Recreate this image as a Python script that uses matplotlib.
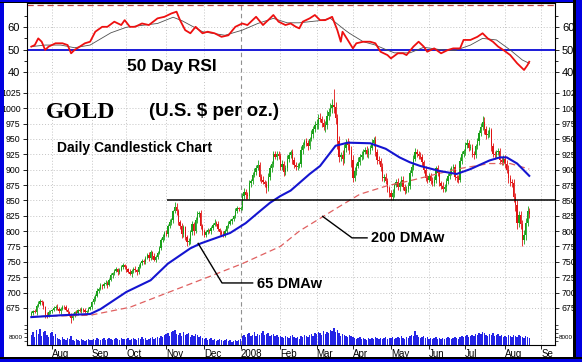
import numpy as np
import pandas as pd
import matplotlib
matplotlib.use('Agg')
import matplotlib.pyplot as plt
from matplotlib.patches import Rectangle

plt.rcParams['font.family'] = ['Liberation Sans', 'DejaVu Sans']

# ---- daily closes, one list per month (Jul 16 2007 .. Aug 21 2008, business days)
c_jul07 = [667, 670, 668, 678, 682, 686, 684, 676, 664, 662, 668, 670]
c_aug07 = [672, 675, 677, 673, 670, 674, 677, 676, 672, 668, 664, 658, 662, 668, 667, 671,
           670, 673, 672, 668, 670, 674, 676]
c_sep07 = [684, 690, 695, 702, 706, 712, 710, 714, 716, 713, 720, 728, 731, 735, 738, 733,
           737, 741, 745, 742]
c_oct07 = [738, 734, 730, 735, 739, 736, 733, 742, 748, 751, 750, 757, 761, 756, 766, 760,
           753, 758, 765, 772, 785, 790, 797]
c_nov07 = [795, 808, 815, 818, 832, 840, 832, 815, 808, 795, 806, 790, 782, 784, 798, 812,
           800, 818, 828, 830, 808, 800]
c_dec07 = [794, 798, 802, 800, 805, 810, 814, 812, 803, 799, 796, 793, 800, 808, 812, 816,
           820, 824, 833, 838, 836]
c_jan08 = [838, 857, 864, 859, 857, 878, 881, 892, 896, 903, 908, 888, 884, 880, 877, 870,
           888, 902, 910, 925, 921, 926, 922]
c_feb08 = [905, 910, 896, 902, 918, 924, 928, 915, 908, 904, 906, 909, 932, 940, 946, 944,
           938, 950, 958, 966, 973]
c_mar08 = [975, 984, 982, 976, 970, 972, 988, 994, 1000, 1005, 1002, 984, 946, 920, 924, 918,
           935, 944, 940, 932, 916]
c_apr08 = [886, 898, 906, 913, 920, 924, 929, 932, 925, 930, 936, 944, 948, 928, 916, 914,
           904, 886, 888, 882, 870, 862]
c_may08 = [856, 862, 875, 880, 872, 878, 884, 872, 866, 868, 874, 894, 905, 918, 928, 926,
           922, 921, 912, 900, 886, 884]
c_jun08 = [890, 882, 878, 884, 902, 894, 878, 874, 868, 872, 882, 889, 897, 902, 904, 888,
           886, 884, 914, 926, 930]
c_jul08 = [940, 944, 936, 936, 926, 924, 938, 946, 960, 970, 978, 966, 956, 958, 964, 938,
           926, 924, 928, 930, 916, 912, 918]
c_aug08 = [910, 900, 886, 880, 878, 856, 842, 814, 826, 812, 786, 794, 814, 832, 828]
first_open = 664

# upper / lower wick sizes ($ beyond the body)
wick_up = [3, 2, 4, 3, 5, 4, 2, 3, 2, 4, 3, 2,
           2, 3, 2, 4, 3, 2, 3, 2, 4, 3, 2, 3, 5, 2, 3, 2, 4, 3, 2, 3, 2, 3, 2,
           3, 4, 2, 5, 3, 4, 2, 3, 5, 2, 4, 3, 2, 4, 3, 2, 3, 4, 3, 2,
           3, 2, 4, 3, 2, 5, 3, 4, 2, 3, 4, 2, 3, 5, 3, 2, 4, 3, 2, 4, 3, 5, 3,
           4, 3, 5, 4, 3, 8, 5, 4, 3, 5, 4, 3, 4, 5, 3, 4, 3, 5, 4, 3, 4, 3,
           3, 4, 3, 2, 4, 3, 5, 3, 4, 2, 3, 4, 3, 2, 4, 3, 2, 3, 4, 3, 2,
           3, 5, 6, 4, 5, 6, 4, 5, 6, 5, 7, 4, 5, 6, 4, 5, 6, 5, 4, 6, 5, 4, 5,
           5, 6, 4, 5, 6, 5, 4, 6, 5, 4, 5, 3, 6, 5, 4, 6, 5, 4, 6, 5, 7,
           7, 6, 8, 5, 6, 7, 9, 6, 8, 10, 26, 8, 7, 9, 5, 8, 7, 6, 8, 7, 6,
           8, 6, 5, 7, 5, 6, 4, 5, 6, 5, 4, 6, 5, 7, 5, 6, 5, 7, 5, 6, 5, 4,
           5, 6, 4, 5, 6, 4, 5, 6, 4, 5, 6, 5, 4, 6, 7, 5, 4, 6, 5, 4, 6, 5,
           5, 4, 6, 5, 4, 6, 5, 4, 6, 5, 4, 5, 6, 4, 5, 6, 4, 5, 6, 5, 4,
           5, 6, 4, 5, 6, 5, 4, 6, 5, 6, 10, 7, 5, 6, 5, 4, 6, 5, 4, 6, 5, 4, 6,
           6, 5, 7, 6, 5, 7, 6, 8, 6, 7, 6, 8, 7, 9, 6]
wick_dn = [2, 3, 2, 4, 2, 3, 4, 2, 5, 3, 2, 3,
           3, 2, 4, 2, 3, 5, 2, 3, 2, 4, 3, 8, 3, 2, 4, 3, 2, 3, 4, 2, 3, 2, 3,
           2, 3, 4, 2, 3, 2, 4, 3, 2, 5, 3, 2, 4, 3, 2, 4, 3, 2, 3, 4,
           4, 3, 2, 5, 3, 2, 4, 3, 2, 3, 4, 3, 2, 4, 3, 5, 2, 3, 4, 2, 3, 2, 4,
           3, 4, 3, 5, 4, 3, 6, 5, 4, 6, 4, 5, 6, 4, 5, 4, 6, 3, 4, 5, 4, 6,
           4, 3, 2, 3, 4, 3, 2, 4, 3, 5, 3, 2, 3, 4, 3, 2, 4, 3, 2, 3, 4,
           2, 4, 5, 6, 5, 4, 6, 5, 4, 5, 4, 6, 5, 4, 6, 8, 5, 4, 6, 5, 4, 6, 5,
           6, 5, 7, 5, 4, 6, 5, 6, 5, 4, 5, 3, 5, 6, 4, 5, 6, 5, 4, 6, 5,
           6, 8, 5, 7, 6, 8, 5, 7, 6, 8, 9, 10, 12, 8, 6, 10, 7, 6, 8, 7, 12,
           6, 5, 7, 4, 6, 5, 6, 4, 5, 6, 5, 4, 6, 5, 7, 5, 6, 4, 6, 5, 6, 7,
           6, 5, 6, 4, 5, 6, 4, 5, 6, 4, 5, 6, 4, 5, 4, 6, 5, 4, 6, 5, 4, 6,
           4, 6, 5, 4, 6, 5, 4, 6, 5, 4, 6, 5, 4, 6, 5, 4, 6, 5, 4, 5, 6,
           6, 5, 6, 4, 5, 6, 5, 4, 6, 5, 6, 8, 6, 5, 4, 8, 5, 6, 5, 4, 6, 5, 4,
           7, 6, 8, 7, 6, 8, 9, 10, 7, 8, 11, 7, 8, 6, 7]

# daily volume (thousands of contracts)
volume = [10, 13, 8, 15, 11, 16, 9, 13, 14, 10, 8, 12,
          13, 9, 11, 7, 6, 5, 8, 6, 5, 7, 6, 9, 5, 4, 6, 5, 4, 6, 5, 4, 5, 6, 5,
          5, 6, 5, 7, 6, 5, 6, 7, 5, 6, 7, 6, 5, 6, 7, 6, 5, 7, 6, 6,
          6, 7, 5, 6, 7, 6, 5, 7, 6, 8, 6, 7, 5, 6, 7, 8, 6, 7, 8, 7, 9, 8, 10,
          11, 12, 9, 13, 14, 15, 11, 10, 12, 9, 13, 10, 11, 12, 8, 10, 9, 11, 10, 8, 9, 7,
          6, 7, 5, 6, 7, 5, 6, 4, 5, 6, 5, 4, 5, 6, 4, 5, 3, 4, 5, 4, 5,
          6, 9, 10, 8, 11, 12, 9, 10, 13, 9, 11, 10, 12, 14, 10, 11, 12, 9, 10, 11, 9, 10, 8,
          9, 8, 7, 9, 8, 7, 9, 10, 8, 7, 8, 6, 9, 8, 10, 9, 8, 10, 11, 9, 12,
          11, 13, 12, 10, 14, 11, 13, 12, 15, 14, 17, 13, 15, 12, 9, 11, 10, 9, 8, 10, 9,
          8, 7, 6, 7, 8, 6, 7, 6, 5, 7, 6, 7, 6, 8, 7, 6, 7, 6, 7, 8, 6, 7,
          7, 8, 6, 7, 8, 7, 9, 7, 6, 8, 7, 9, 10, 9, 14, 10, 8, 7, 8, 9, 7, 8,
          6, 7, 6, 7, 8, 6, 7, 6, 7, 6, 7, 8, 7, 6, 7, 8, 7, 6, 8, 9, 8,
          9, 10, 8, 9, 10, 9, 11, 10, 12, 11, 13, 12, 10, 9, 11, 10, 12, 9, 10, 11, 9, 10, 8,
          9, 8, 10, 9, 8, 10, 9, 8, 10, 9, 8, 7, 9, 8, 7]

# moving averages (trading-day index, price)
ma65_day = [0, 17, 34, 40, 55, 69, 79, 92, 98, 115, 124, 132, 138, 144, 150, 161, 167, 176,
            183, 196, 205, 213, 219, 225, 236, 246, 254, 265, 271, 275, 281, 288]
ma65_val = [660, 663, 665, 673, 701, 720, 747, 772, 780, 797, 813, 832, 846, 857, 866, 893, 906,
            939, 944, 943, 934, 920, 912, 906, 898, 893, 901, 915, 920, 920, 910, 890]
ma200_day = [0, 34, 57, 80, 103, 122, 144, 155, 177, 190, 206, 219, 246, 265, 277, 288]
ma200_val = [661, 663, 676, 701, 726, 747, 775, 800, 838, 860, 874, 882, 901, 910, 910, 901]

# 50 day RSI and its signal line
rsi_day = [0, 2, 4, 6, 8, 10, 14, 18, 21, 23, 25, 28, 31, 34, 37, 41, 44, 48, 52, 54, 57, 60,
           64, 68, 73, 77, 81, 84, 86, 89, 92, 95, 99, 102, 106, 110, 114, 118, 122, 125, 130,
           134, 137, 140, 143, 147, 150, 153, 155, 157, 161, 164, 167, 170, 174, 177, 179, 180,
           183, 186, 188, 192, 196, 199, 202, 206, 208, 212, 215, 217, 221, 224, 227, 229, 233,
           237, 241, 244, 248, 250, 254, 258, 261, 264, 267, 270, 273, 277, 281, 285, 287, 288]
rsi_val = [51.3, 52, 55, 53.5, 49.8, 51.3, 52.8, 52.8, 52, 48.3, 49.8, 51.3, 52.8, 53.5, 58,
           60.2, 60.2, 62.5, 61, 63.2, 60.2, 60.2, 61.7, 61, 64, 64.7, 66.2, 67, 63.2, 58.7, 57.3,
           60.2, 57.3, 58, 57.3, 55.7, 56.4, 60.2, 61.7, 61, 64.7, 61, 63.2, 65.5, 62.5, 61, 61.7,
           60.2, 59.5, 62.5, 64, 65.5, 63.2, 63.2, 64.7, 58.7, 53.5, 58, 54.3, 50.5, 52.8, 53.5,
           53.5, 52.8, 49, 47.5, 46, 48.3, 48.3, 47.5, 51.3, 53.5, 51.3, 49, 50.5, 48.3, 49.8,
           50.5, 50.5, 54.3, 54.3, 55.7, 57.3, 55, 53.5, 51.3, 49.8, 47.5, 43.8, 40.8, 43, 44.5]
sig_day = [0, 8, 17, 25, 34, 46, 55, 73, 82, 87, 99, 112, 122, 131, 140, 148, 155, 167, 173,
           181, 184, 192, 199, 205, 210, 219, 227, 236, 245, 254, 261, 269, 277, 284, 288]
sig_val = [51.3, 52, 52, 50.8, 52, 57.5, 60, 61.7, 64.5, 63, 58, 56.4, 58.7, 61.7, 64, 62, 62,
           63, 64, 59, 57.3, 53.5, 52, 50, 48.5, 48.5, 51, 50, 49.5, 52, 55, 54.3, 49.8, 45.3, 43.8]

month_labels = ['Aug', 'Sep', 'Oct', 'Nov', 'Dec', '2008', 'Feb', 'Mar', 'Apr', 'May', 'Jun',
                'Jul', 'Aug', 'Se']
price_ticks = [675, 700, 725, 750, 775, 800, 825, 850, 875, 900, 925, 950, 975, 1000, 1025]

# ---- build series
closes = np.array(c_jul07 + c_aug07 + c_sep07 + c_oct07 + c_nov07 + c_dec07 + c_jan08 + c_feb08
                  + c_mar08 + c_apr08 + c_may08 + c_jun08 + c_jul08 + c_aug08, dtype=float)
opens = np.concatenate([[first_open], closes[:-1]])
n = len(closes)
days = np.arange(n)
top = np.maximum(opens, closes)
bot = np.minimum(opens, closes)
highs = top + np.array(wick_up[:n])
lows = bot - np.array(wick_dn[:n])
up = closes >= opens
colors = np.where(up, '#18a018', '#e01414')

dates = pd.bdate_range('2007-07-16', '2008-09-30')
s = pd.Series(np.arange(len(dates)), index=dates)
month_idx = s.groupby([dates.year, dates.month]).first().values[1:15]

W, H = 582, 362
fig = plt.figure(figsize=(W / 100, H / 100), dpi=100)
fig.patch.set_facecolor('white')


def axes_px(x0, y0, x1, y1):
    return fig.add_axes([x0 / W, 1 - y1 / H, (x1 - x0) / W, (y1 - y0) / H])


ax_r = axes_px(27, 3, 555, 80)
ax_p = axes_px(27, 80, 555, 345)
ax_v = axes_px(27, 316, 555, 345)

xmin, xmax = -2.5, 302.9
grid_kw = dict(color='#c4c4c4', lw=0.7, ls=(0, (1, 2)), zorder=0)

for ax in (ax_r, ax_p):
    ax.set_xlim(xmin, xmax)
    for k, m in enumerate(month_idx):
        if month_labels[k] == '2008':
            ax.axvline(m, color='#909090', lw=0.8, ls=(0, (4, 3)), zorder=0)
        else:
            ax.axvline(m, **grid_kw)
    for side in ('left', 'right'):
        ax.spines[side].set_linewidth(0.8)

# ---- RSI panel
ax_r.set_ylim(36.3, 70.9)
for v in (40, 60):
    ax_r.axhline(v, **grid_kw)
ax_r.axhline(70, color='#c84040', lw=0.9, ls=(0, (5, 3)))
ax_r.axhline(50, color='#1a1ad8', lw=1.4)
ax_r.plot(sig_day, sig_val, color='#505050', lw=0.6)
ax_r.plot(rsi_day, rsi_val, color='#ee1010', lw=1.3)
ax_r.spines['bottom'].set_visible(False)
ax_r.set_xticks([])
ax_r.set_yticks([40, 50, 60])
ax_r.set_yticks([45, 55, 65], minor=True)
ax_r.tick_params(axis='y', which='both', direction='out', left=True, right=True,
                 labelleft=True, labelright=True, labelsize=8, length=3, width=0.6, pad=2)
ax_r.tick_params(axis='y', which='minor', length=2)

# ---- price panel
ax_p.set_ylim(614.6, 1046)
for v in price_ticks:
    ax_p.axhline(v, **grid_kw)
ax_p.vlines(days, lows, highs, colors=colors, lw=0.6, zorder=3)
ax_p.bar(days, np.maximum(top - bot, 1.2), bottom=bot, width=0.75, color=colors,
         linewidth=0, zorder=3)
ax_p.plot(ma200_day, ma200_val, color='#e06060', lw=0.9, ls=(0, (5, 3)), zorder=4)
ax_p.plot(ma65_day, ma65_val, color='#1414d0', lw=1.5, zorder=4)
ax_p.hlines(850, 78.5, xmax, color='black', lw=1.1, zorder=5)
# leader lines for the labels
ax_p.plot([96.5, 110.3, 128.0], [780, 715.6, 715.6], color='black', lw=1.0, zorder=5)
ax_p.plot([168.5, 185.5, 194.2], [824, 789, 789], color='black', lw=1.0, zorder=5)
ax_p.spines['top'].set_visible(False)
ax_p.set_yticks(price_ticks)
ax_p.tick_params(axis='y', direction='out', left=True, right=True, labelleft=True,
                 labelright=True, labelsize=6.3, length=3, width=0.6, pad=1.5)
ax_p.set_xticks(month_idx)
ax_p.set_xticklabels(month_labels, ha='left')
ax_p.tick_params(axis='x', direction='out', length=3, width=0.6, labelsize=7, pad=0)

# ---- volume panel
ax_v.set_xlim(xmin, xmax)
ax_v.set_ylim(0, 29)
ax_v.bar(days, volume[:n], width=0.8, color='#2424e6', linewidth=0)
ax_v.patch.set_visible(False)
for sp in ax_v.spines.values():
    sp.set_visible(False)
ax_v.set_xticks([])
ax_v.set_yticks([8])
ax_v.set_yticklabels(['8000'])
ax_v.set_yticks([4, 12, 16, 20], minor=True)
ax_v.tick_params(axis='y', which='both', direction='out', left=True, right=True,
                 labelleft=True, labelright=True, labelsize=4.5, length=2, width=0.5, pad=1)

# ---- titles and labels
def text_px(x, y, s, **kw):
    fig.text(x / W, 1 - y / H, s, va='center', ha='left', **kw)


text_px(46, 112, 'GOLD', family=['Liberation Serif', 'DejaVu Serif'], weight='bold', fontsize=17)
text_px(149, 112, '(U.S. $ per oz.)', weight='bold', fontsize=13.5)
text_px(57, 148, 'Daily Candlestick Chart', weight='bold', fontsize=10)
text_px(127, 66, '50 Day RSI', weight='bold', fontsize=12.5)
text_px(257, 284, '65 DMAw', weight='bold', fontsize=10.5)
text_px(371, 238, '200 DMAw', weight='bold', fontsize=10.5)

# ---- frame
def rect_px(x0, y0, x1, y1, color):
    fig.add_artist(Rectangle((x0 / W, 1 - y1 / H), (x1 - x0) / W, (y1 - y0) / H,
                             transform=fig.transFigure, facecolor=color, edgecolor='none',
                             zorder=10))


blue = '#0000e0'
rect_px(0, 0, 4, H, blue)
rect_px(0, 0, W, 2, blue)
rect_px(0, 2, W, 3, 'black')
rect_px(573, 0, 576, H, 'black')
rect_px(576, 0, W, H, blue)
rect_px(0, 357, W, 358.5, 'black')
rect_px(0, 358.5, W, H, blue)

fig.savefig('out.png', dpi=100)
